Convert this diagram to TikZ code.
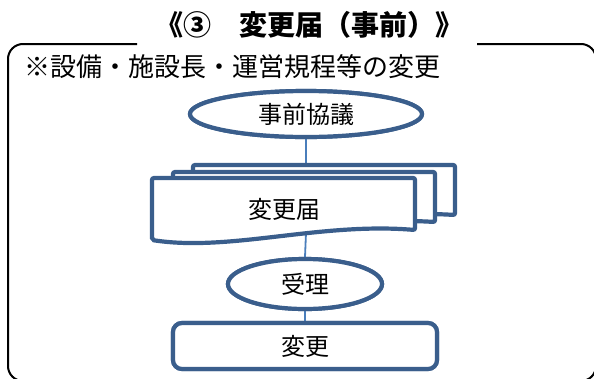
\documentclass[tikz,border=0pt]{standalone}
\usepackage{fontspec}
\setmainfont{Noto Sans CJK JP}
\usetikzlibrary{shapes.geometric}
\definecolor{bord}{RGB}{58,94,140}
\definecolor{conn}{RGB}{74,126,187}
\tikzset{
  shp/.style={draw=bord, line width=4.2pt, fill=white},
  ell/.style={shp, ellipse, inner sep=0pt},
  lbl/.style={font=\fontsize{24}{24}\selectfont, inner sep=0pt},
  cn/.style={draw=conn, line width=1.8pt},
}
\begin{document}
\begin{tikzpicture}[x=1pt,y=-1pt]
\useasboundingbox (0,0) rectangle (594,378);
\clip (0,0) rectangle (594,378);
% frame
\draw[line width=2pt, rounded corners=15pt] (137,44) -- (8,44) -- (8,381) -- (596,381) -- (596,44) -- (477,44);
% title
\node[font=\fontsize{28}{28}\selectfont\bfseries, inner sep=0pt] (title) at (309,25) {《③　変更届（事前）》};
\node[font=\fontsize{26}{26}\selectfont, inner sep=0pt, anchor=west] (sub) at (24,67) {※設備・施設長・運営規程等の変更};
% coordinates
\coordinate (btop) at (306,165);
\coordinate (bbot) at (306,233);
% connectors drawn first
\node[ell, minimum width=232pt, minimum height=46pt] (a) at (306,114) {};
\node[ell, minimum width=154pt, minimum height=50pt] (c) at (305,284) {};
\node[shp, rounded corners=9pt, minimum width=264pt, minimum height=46pt, inner sep=0pt] (d) at (305,346) {};
\draw[cn] (a.south) -- (btop);
\draw[cn] (bbot) -- (c.north);
\draw[cn] (c.south) -- (d.north);
% redraw shapes over connectors
\node[ell, minimum width=232pt, minimum height=46pt, lbl] at (306,114) {事前協議};
\node[ell, minimum width=154pt, minimum height=50pt, lbl] at (305,284) {受理};
\node[shp, rounded corners=9pt, minimum width=264pt, minimum height=46pt, lbl] at (305,346) {変更};
% multi-document
\draw[shp, rounded corners=2pt] (193,165) -- (455,165) -- (455,215) .. controls (360,209) and (260,236) .. (193,226) -- cycle;
\draw[shp, rounded corners=2pt] (173,172) -- (435,172) -- (435,222) .. controls (340,216) and (240,243) .. (173,233) -- cycle;
\draw[shp, rounded corners=2pt] (152,178) -- (415,178) -- (415,230) .. controls (320,222) and (230,252) .. (152,240) -- cycle;
\node[lbl] (b) at (284,209) {変更届};
\end{tikzpicture}
\end{document}
